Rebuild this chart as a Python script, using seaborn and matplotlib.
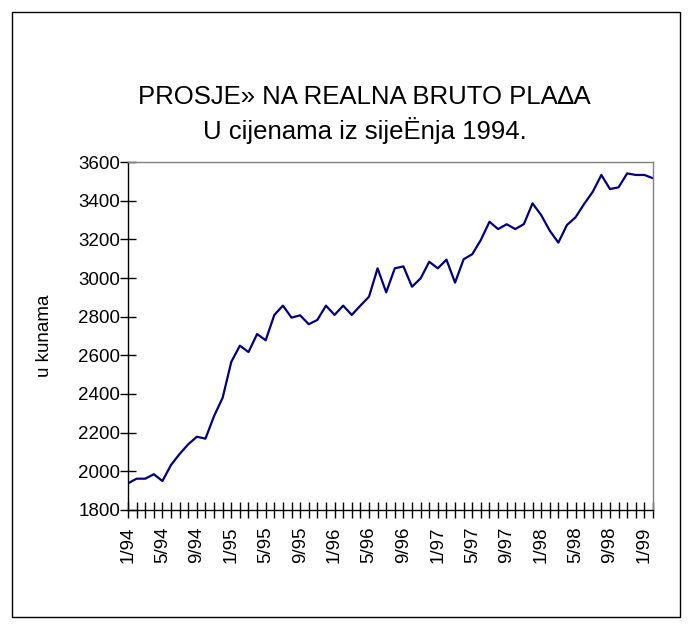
import matplotlib
matplotlib.use("Agg")
import matplotlib.pyplot as plt
import matplotlib.patches as mpatches
import pandas as pd
import seaborn as sns

# monthly average real gross wage, 1/94 .. 2/99 (prices of January 1994)
wages = [
    1938, 1962, 1962, 1985, 1950, 2033, 2090, 2140, 2179, 2169, 2286, 2381,
    2566, 2650, 2617, 2710, 2678, 2809, 2857, 2795, 2807, 2761, 2783, 2857,
    2809, 2857, 2809, 2857, 2903, 3050, 2926, 3050, 3060, 2955, 2998, 3084,
    3050, 3095, 2976, 3097, 3123, 3197, 3291, 3253, 3278, 3253, 3279, 3386,
    3326, 3245, 3183, 3274, 3314, 3383, 3446, 3533, 3460, 3469, 3541, 3533,
    3533, 3516,
]
tick_labels = ["1/94", "5/94", "9/94", "1/95", "5/95", "9/95", "1/96", "5/96",
               "9/96", "1/97", "5/97", "9/97", "1/98", "5/98", "9/98", "1/99"]
y_ticks = [1800, 2000, 2200, 2400, 2600, 2800, 3000, 3200, 3400, 3600]

title_1 = "PROSJE» NA REALNA BRUTO PLA∆A"
title_2 = "U cijenama iz sijeËnja 1994."
y_label = "u kunama"

sns.set_theme(style="white")
plt.rcParams["font.family"] = ["Liberation Sans", "DejaVu Sans"]
plt.rcParams["text.color"] = "black"
plt.rcParams["axes.labelcolor"] = "black"

df = pd.DataFrame({"month": range(len(wages)), "wage": wages})

fig = plt.figure(figsize=(6.91, 6.29), dpi=100)
ax = fig.add_axes([128 / 691, 119 / 629, 525 / 691, 348 / 629])

sns.lineplot(data=df, x="month", y="wage", ax=ax, color="#000080", linewidth=1.6)

ax.set_xlim(0, len(wages) - 1)
ax.set_ylim(y_ticks[0], y_ticks[-1])
ax.set_yticks(y_ticks)
ax.set_yticklabels([str(v) for v in y_ticks])
ax.set_xticks(range(len(wages)))
ax.set_xticklabels([tick_labels[i // 4] if i % 4 == 0 else "" for i in range(len(wages))],
                   rotation=90)
ax.set_xlabel("")
ax.set_ylabel(y_label, fontsize=13.5)
ax.yaxis.set_label_coords(-75 / 525, 0.5)

ax.tick_params(axis="both", direction="inout", length=11, width=1, color="black",
               labelsize=13.5, labelcolor="black")
ax.tick_params(axis="x", pad=6.5)
ax.tick_params(axis="y", pad=0)
ax.tick_params(left=True, bottom=True)

for side in ["left", "bottom"]:
    ax.spines[side].set_color("black")
    ax.spines[side].set_linewidth(1)
for side in ["top", "right"]:
    ax.spines[side].set_color("#808080")
    ax.spines[side].set_linewidth(1)

fig.text(364 / 691, 1 - 97 / 629, title_1, ha="center", va="center", fontsize=18.5)
fig.text(365 / 691, 1 - 131 / 629, title_2, ha="center", va="center", fontsize=18.5)

fig.patches.append(mpatches.Rectangle((12 / 691, 12 / 629), 668 / 691, 605 / 629,
                                      transform=fig.transFigure, fill=False,
                                      edgecolor="black", linewidth=1))

fig.savefig("out.png", dpi=100)
